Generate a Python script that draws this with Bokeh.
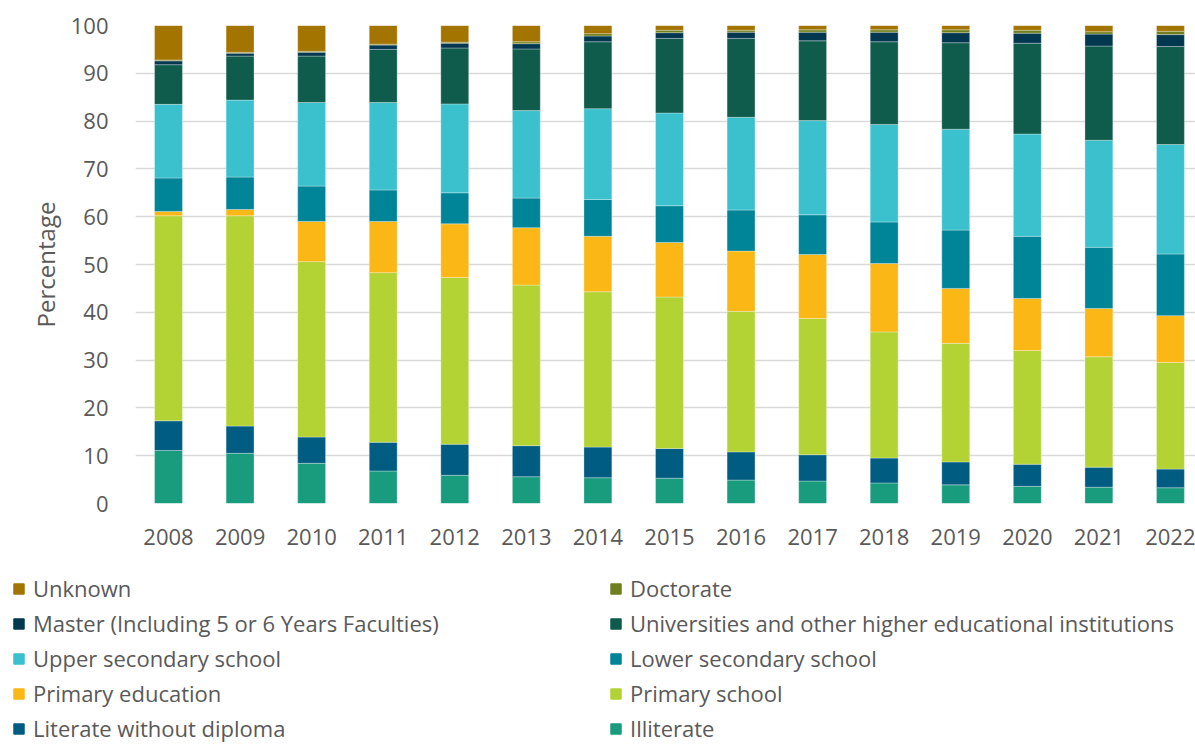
from bokeh.plotting import figure
from bokeh.layouts import column
from bokeh.models import Range1d, FixedTicker, Legend, LegendItem, ColumnDataSource
from bokeh.embed import file_html
from bokeh.resources import INLINE

years = [2008, 2009, 2010, 2011, 2012, 2013, 2014, 2015, 2016, 2017, 2018, 2019, 2020, 2021, 2022]
year_labels = [str(y) for y in years]

illiterate = [11.1, 10.5, 8.4, 6.8, 5.9, 5.6, 5.4, 5.3, 4.9, 4.7, 4.3, 3.9, 3.6, 3.4, 3.3]
literate_without_diploma = [6.2, 5.7, 5.5, 6.0, 6.5, 6.5, 6.4, 6.2, 5.9, 5.5, 5.2, 4.8, 4.6, 4.2, 3.9]
primary_school = [42.9, 44.0, 36.7, 35.5, 34.9, 33.6, 32.5, 31.7, 29.4, 28.5, 26.4, 24.8, 23.8, 23.1, 22.3]
primary_education = [0.9, 1.3, 8.4, 10.7, 11.2, 12.0, 11.6, 11.4, 12.6, 13.4, 14.3, 11.5, 10.9, 10.1, 9.8]
lower_secondary = [7.0, 6.8, 7.4, 6.6, 6.5, 6.2, 7.7, 7.7, 8.6, 8.3, 8.7, 12.2, 13.0, 12.8, 12.9]
upper_secondary = [15.4, 16.1, 17.5, 18.3, 18.6, 18.3, 19.0, 19.4, 19.4, 19.7, 20.4, 21.1, 21.4, 22.4, 22.9]
universities = [8.3, 9.2, 9.7, 11.1, 11.7, 12.9, 14.0, 15.6, 16.5, 16.7, 17.3, 18.1, 19.0, 19.7, 20.5]
master = [0.8, 0.6, 0.8, 0.9, 1.0, 1.1, 1.2, 1.2, 1.3, 1.8, 2.0, 2.1, 2.1, 2.5, 2.5]
doctorate = [0.2, 0.2, 0.2, 0.2, 0.2, 0.4, 0.5, 0.5, 0.4, 0.5, 0.5, 0.6, 0.6, 0.5, 0.7]
unknown = [7.2, 5.6, 5.4, 3.9, 3.5, 3.4, 1.7, 1.0, 1.0, 0.9, 0.9, 0.9, 1.0, 1.3, 1.2]

series_names = [
    "Illiterate",
    "Literate without diploma",
    "Primary school",
    "Primary education",
    "Lower secondary school",
    "Upper secondary school",
    "Universities and other higher educational institutions",
    "Master (Including 5 or 6 Years Faculties)",
    "Doctorate",
    "Unknown",
]
series_values = [illiterate, literate_without_diploma, primary_school, primary_education,
                 lower_secondary, upper_secondary, universities, master, doctorate, unknown]
colors = ["#199C7D", "#005C80", "#B3D335", "#FBB715", "#008497",
          "#3AC1CD", "#0F5C4C", "#023750", "#6F7F1E", "#A37400"]

TEXT = "#595959"
FONT = "Open Sans"
W = 1195

keys = [f"s{i}" for i in range(len(series_names))]
data = {"year": years}
for k, v in zip(keys, series_values):
    data[k] = v
source = ColumnDataSource(data)

p = figure(width=W, height=563, output_backend="svg", toolbar_location=None,
           x_range=Range1d(2007.539, 2022.35), y_range=Range1d(0, 100),
           min_border_left=135, min_border_right=0, min_border_top=25, min_border_bottom=60)
p.frame_align = False
p.outline_line_color = None
p.background_fill_color = "white"
p.border_fill_color = "white"

renderers = p.vbar_stack(keys, x="year", width=0.39, source=source, color=colors,
                         line_color="white", line_width=0.6, line_alpha=0.5)

# axes
p.xaxis.ticker = FixedTicker(ticks=years)
p.xaxis.major_label_overrides = {y: s for y, s in zip(years, year_labels)}
p.xaxis.axis_line_color = None
p.xaxis.major_tick_line_color = None
p.xaxis.minor_tick_line_color = None
p.xaxis.major_tick_out = 0
p.xaxis.major_tick_in = 0
p.xaxis.major_label_standoff = 25
p.xaxis.major_label_text_font = FONT
p.xaxis.major_label_text_font_size = "22px"
p.xaxis.major_label_text_color = TEXT

p.yaxis.ticker = FixedTicker(ticks=list(range(0, 101, 10)))
p.yaxis.axis_line_color = None
p.yaxis.major_tick_line_color = None
p.yaxis.minor_tick_line_color = None
p.yaxis.major_tick_out = 0
p.yaxis.major_tick_in = 0
p.yaxis.major_label_standoff = 27
p.yaxis.major_label_text_font = FONT
p.yaxis.major_label_text_font_size = "22px"
p.yaxis.major_label_text_color = TEXT
p.yaxis.axis_label = "Percentage"
p.yaxis.axis_label_text_font = FONT
p.yaxis.axis_label_text_font_size = "24px"
p.yaxis.axis_label_text_font_style = "normal"
p.yaxis.axis_label_text_color = TEXT
p.yaxis.axis_label_standoff = 6

p.xgrid.grid_line_color = None
p.ygrid.grid_line_color = "#D9D9D9"
p.ygrid.grid_line_width = 1.6

# legend panel (separate figure under the chart), two columns, five rows
lg = figure(width=W, height=181, output_backend="svg", toolbar_location=None,
            x_range=Range1d(0, 1), y_range=Range1d(0, 1),
            x_axis_location=None, y_axis_location=None,
            min_border_left=0, min_border_right=0, min_border_top=0, min_border_bottom=0)
lg.frame_align = False
lg.outline_line_color = None
lg.xgrid.grid_line_color = None
lg.ygrid.grid_line_color = None
lg.background_fill_color = "white"
lg.border_fill_color = "white"

swatches = {}
for name, c in zip(series_names, colors):
    # hidden placeholder renderer: only its legend swatch is drawn
    r = lg.vbar(x=[0.5], top=[1], width=0.1, fill_color=c, line_color=c)
    r.visible = False
    swatches[name] = r

legend_order = [
    "Unknown",
    "Master (Including 5 or 6 Years Faculties)",
    "Upper secondary school",
    "Primary education",
    "Literate without diploma",
    "Doctorate",
    "Universities and other higher educational institutions",
    "Lower secondary school",
    "Primary school",
    "Illiterate",
]
items = [LegendItem(label=n, renderers=[swatches[n]]) for n in legend_order]
legend = Legend(items=items, location=(12, 1), orientation="vertical", nrows=5, ncols=2,
                glyph_width=13, glyph_height=13, label_standoff=8, label_width=571,
                label_height=30, spacing=5, padding=0, margin=0,
                label_text_font=FONT, label_text_font_size="22px", label_text_color=TEXT,
                inactive_fill_alpha=0,
                border_line_color=None, background_fill_alpha=0)
lg.add_layout(legend, "center")

layout = column(p, lg, spacing=0)
open("out.html", "w").write(file_html(layout, INLINE))
